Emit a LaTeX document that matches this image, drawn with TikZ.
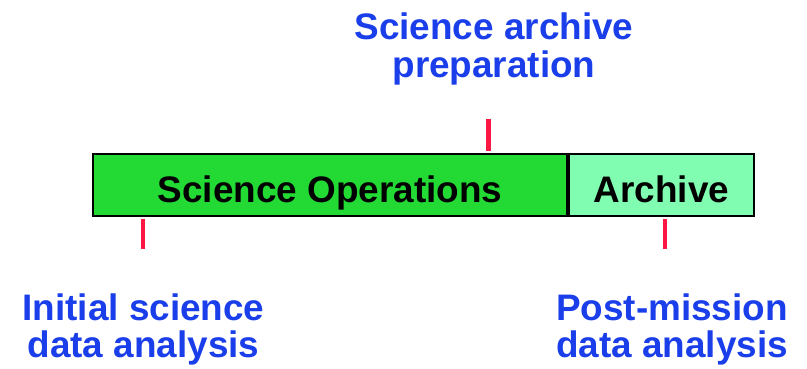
\documentclass[tikz,border=0pt]{standalone}
\usepackage{fontspec}
\setmainfont{Liberation Sans}
\usepackage{xcolor}
\usepackage{tikz}
\usetikzlibrary{positioning,calc}
\definecolor{opsgreen}{HTML}{22DA33}
\definecolor{arcgreen}{HTML}{80FDB0}
\definecolor{tickred}{HTML}{FF1744}
\definecolor{labblue}{HTML}{1A3EEA}

\begin{document}
\begin{tikzpicture}[bar/.style={draw=black,line width=1.2pt,minimum height=1.24cm,inner sep=0pt,text height=0.70cm,text depth=0pt,font=\fontsize{21}{21}\selectfont\bfseries},
                    tick/.style={tickred,line width=2.8pt,shorten >=0.04cm},
                    lab/.style={labblue,align=center,inner sep=0pt,font=\fontsize{21}{21.2}\selectfont\bfseries}]
  \useasboundingbox (0,0) rectangle (16.14,7.36);
  \node[bar,fill=opsgreen,minimum width=9.48cm] (ops) at (6.6,3.66) {Science Operations};
  \node[bar,fill=arcgreen,minimum width=3.7cm,right=0pt of ops] (arch) {Archive};
  % labels
  \node[lab] (prep) at (9.88,6.38) {Science archive\\preparation};
  \node[lab] (init) at (2.87,0.77) {Initial science\\data analysis};
  \node[lab] (post) at (13.44,0.77) {Post-mission\\data analysis};
  % ticks
  \coordinate (tp) at (9.77,4.98);
  \coordinate (ti) at (2.86,2.38);
  \coordinate (tq) at (13.30,2.38);
  \draw[tick] (tp) -- (tp |- ops.north);
  \draw[tick] (ti) -- (ti |- ops.south);
  \draw[tick] (tq) -- (tq |- arch.south);
\end{tikzpicture}
\end{document}
